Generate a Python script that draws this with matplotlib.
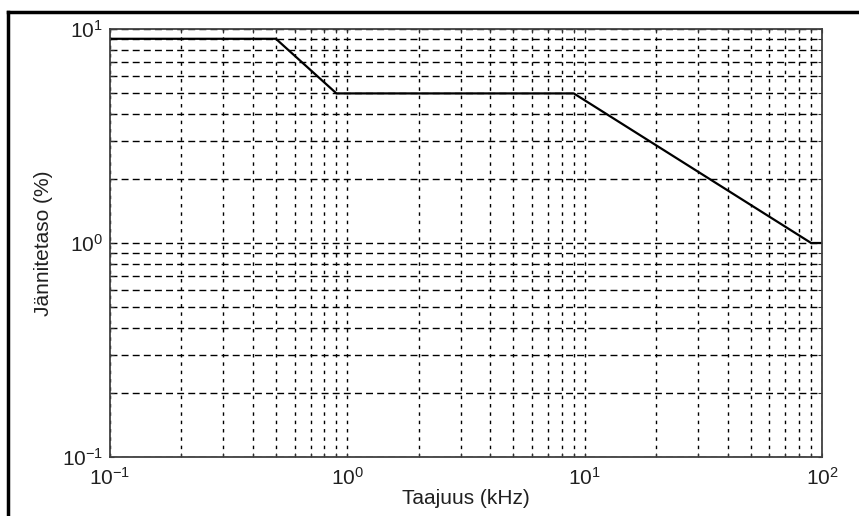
import matplotlib
matplotlib.use("Agg")
import matplotlib.pyplot as plt
from matplotlib.lines import Line2D
from matplotlib.ticker import LogLocator

plt.rcParams['font.family'] = ['Liberation Sans', 'DejaVu Sans']
plt.rcParams['mathtext.fontset'] = 'custom'
plt.rcParams['mathtext.rm'] = 'Liberation Sans'
plt.rcParams['mathtext.default'] = 'regular'

# Signalointijännitteen raja-arvot
taajuus = [0.1, 0.5, 0.9, 9, 90, 100]      # kHz
jannite = [9, 9, 5, 5, 1, 1]               # %

fig = plt.figure(figsize=(8.59, 5.16), dpi=100)
ax = fig.add_axes([110/859, 59/516, 712/859, 428/516])

ax.plot(taajuus, jannite, color='black', linewidth=1.6)
ax.set_xscale('log')
ax.set_yscale('log')
ax.set_xlim(0.1, 100)
ax.set_ylim(0.1, 10)

ax.xaxis.set_major_locator(LogLocator(base=10))
ax.yaxis.set_major_locator(LogLocator(base=10))
ax.xaxis.set_minor_locator(LogLocator(base=10, subs=range(2, 10)))
ax.yaxis.set_minor_locator(LogLocator(base=10, subs=range(2, 10)))
ax.tick_params(which='both', direction='in', top=True, right=True,
               length=3, width=0.8, color='#303030')
ax.tick_params(which='minor', labelbottom=False, labelleft=False)
ax.tick_params(which='major', labelsize=15, labelcolor='#202020')
ax.tick_params(axis='y', which='major', pad=5)
ax.tick_params(axis='x', which='major', pad=7)

ax.xaxis.grid(True, which='both', color='black', linewidth=1.0,
              linestyle=(0, (2.5, 3.5)))
ax.yaxis.grid(True, which='both', color='black', linewidth=1.0,
              linestyle=(0, (5, 3)))
ax.set_axisbelow(True)
for s in ax.spines.values():
    s.set_color('#404040')
    s.set_linewidth(1.3)

ax.set_xlabel('Taajuus (kHz)', fontsize=15, color='#202020', labelpad=0)
ax.set_ylabel('Jännitetaso (%)', fontsize=15, color='#202020', labelpad=6)

# kehys kuvan ympärillä
fig.add_artist(Line2D([8/859, 1], [1 - 12/516, 1 - 12/516],
                      color='black', linewidth=2.5, transform=fig.transFigure))
fig.add_artist(Line2D([8/859, 8/859], [0, 1 - 12/516],
                      color='black', linewidth=2.5, transform=fig.transFigure))

fig.savefig('out.png', dpi=100)
